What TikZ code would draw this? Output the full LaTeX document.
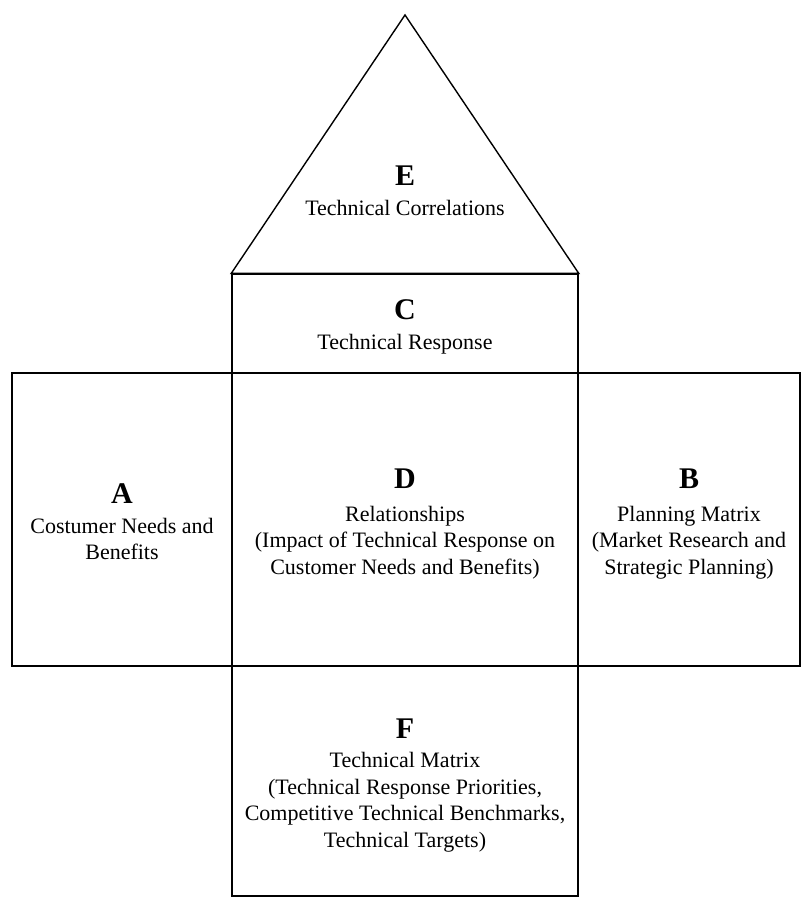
\documentclass[tikz,border=0pt]{standalone}
\usepackage{fontspec}
\setmainfont{Liberation Serif}
\begin{document}
\begin{tikzpicture}[x=1pt,y=-1pt,
  region/.style={draw=black,line width=1.4pt,minimum width=#1,inner sep=0pt},
  letter/.style={anchor=base,font=\fontsize{30}{30}\selectfont\bfseries,inner sep=0pt},
  desc/.style={anchor=base,align=center,font=\fontsize{22}{26.5}\selectfont,inner sep=0pt}]
\useasboundingbox (0,0) rectangle (803,899);
% regions
\node[region=346pt,minimum height=99pt] (C) at (405,323.5) {};
\node[region=220pt,minimum height=293pt] (A) at (122,519.5) {};
\node[region=346pt,minimum height=293pt] (D) at (405,519.5) {};
\node[region=222pt,minimum height=293pt] (B) at (689,519.5) {};
\node[region=346pt,minimum height=230pt] (F) at (405,781) {};
\coordinate (apex) at (405,15);
\draw[line width=1.4pt,line join=miter] (C.north west) -- (apex) -- (C.north east) -- cycle;
% texts (base anchor = baseline of the last line)
\node[letter] (El) at (405,185) {E};
\node[desc] (Et) at (405,215) {Technical Correlations};
\node[letter] (Cl) at (405,319) {C};
\node[desc] (Ct) at (405,349) {Technical Response};
\node[letter] (Al) at (122,503) {A};
\node[desc] (At) at (122,559.5) {Costumer Needs and\\Benefits};
\node[letter] (Dl) at (405,488) {D};
\node[desc] (Dt) at (405,574) {Relationships\\(Impact of Technical Response on\\Customer Needs and Benefits)};
\node[letter] (Bl) at (689,488) {B};
\node[desc] (Bt) at (689,574) {Planning Matrix\\(Market Research and\\Strategic Planning)};
\node[letter] (Fl) at (405,738) {F};
\node[desc] (Ft) at (405,847) {Technical Matrix\\(Technical Response Priorities,\\Competitive Technical Benchmarks,\\Technical Targets)};
\end{tikzpicture}
\end{document}
